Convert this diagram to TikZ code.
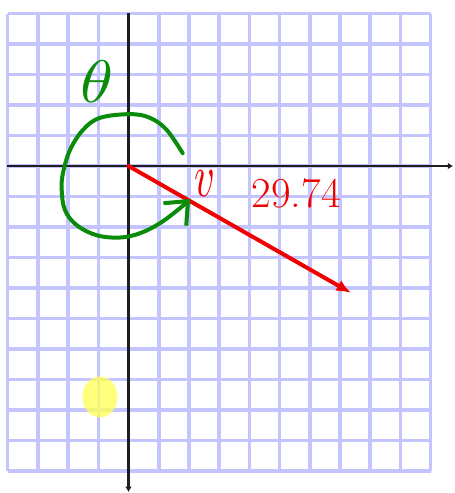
\documentclass[tikz,border=0pt]{standalone}
\usepackage{graphicx}
\usetikzlibrary{arrows.meta}
\definecolor{vpGrid}{HTML}{C4C4FF}
\definecolor{vpInk}{HTML}{1E1E1E}
\definecolor{vpRed}{HTML}{F00000}
\definecolor{vpGreen}{HTML}{0A8C0A}
\definecolor{vpYellow}{HTML}{FFFF5A}

\begin{document}
\begin{tikzpicture}[x=22.65pt,y=22.875pt,
  gridline/.style={vpGrid,line width=2.7pt},
  axisline/.style={vpInk,line width=2.2pt,-{Latex[length=4pt,width=5pt]}},
  vecline/.style={vpRed,line width=3pt,line cap=round,-{Latex[length=11pt,width=9pt]}},
  arcline/.style={vpGreen,line width=3pt,line cap=round,line join=round,-{Straight Barb[length=14pt,width=24pt]}}]
\useasboundingbox (-4.255,-10.721) rectangle (10.811,5.443);
% graph paper
\foreach \x in {-4,...,10}
  \draw[gridline] (\x,-10) -- (\x,5);
\foreach \y in {-10,...,5}
  \draw[gridline] (-4,\y) -- (10,\y);
% highlighter mark
\fill[vpYellow,fill opacity=0.8] (-0.944,-7.57) ellipse (0.58 and 0.67);
% axes
\coordinate (O) at (0,0);
\coordinate (xl) at (-4.02,0);
\coordinate (xr) at (10.75,0);
\coordinate (yt) at (0,5.02);
\coordinate (yb) at (0,-10.69);
\draw[axisline] (xl) -- (xr);
\draw[axisline] (yt) -- (yb);
% vector and its angle
\coordinate (V) at (7.37,-4.16);
\draw[vecline] (O) -- (V);
\draw[arcline] plot[smooth,tension=0.6] coordinates {
 (1.795,0.418) (1.265,1.184) (0.712,1.579) (0.05,1.70) (-0.944,1.579)
 (-1.507,1.184) (-1.937,0.526) (-2.169,-0.230) (-2.212,-0.789)
 (-2.103,-1.447) (-1.715,-1.941) (-1.053,-2.270) (-0.281,-2.345)
 (0.381,-2.204) (1.043,-1.875) (1.705,-1.382) (2.04,-1.08)};
\node[vpGreen] (theta) at (-1.04,2.78) {\scalebox{5}[4.5]{$\theta$}};
\node[vpRed] (vlabel) at (2.53,-0.56) {\scalebox{3}[4.5]{$v$}};
\node[vpRed,font=\fontsize{32}{36}\selectfont] (mag) at (5.55,-0.885) {29.74};
\end{tikzpicture}
\end{document}
